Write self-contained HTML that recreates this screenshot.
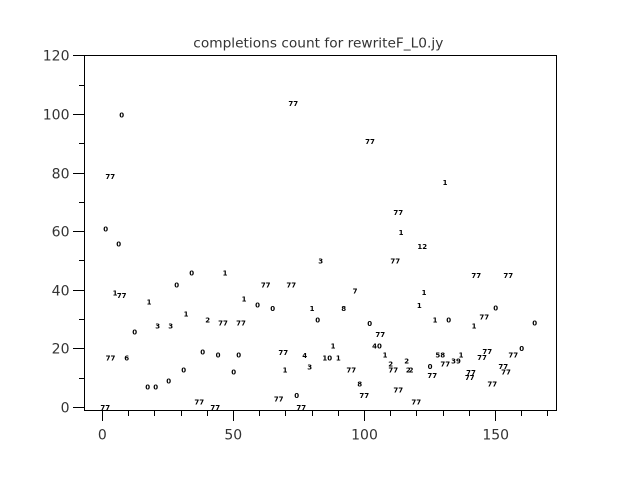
<!DOCTYPE html>
<html><head><meta charset="utf-8"><style>
html,body{margin:0;padding:0;background:#fff;}
svg{display:block;}
.t{font-family:"DejaVu Sans","Liberation Sans",sans-serif;font-size:14px;fill:#333;}
.d{font-family:"DejaVu Sans","Liberation Sans",sans-serif;font-size:7px;fill:#000;text-anchor:middle;font-weight:bold;}
</style></head><body>
<svg width="640" height="480" viewBox="0 0 640 480" xmlns="http://www.w3.org/2000/svg">
<rect width="640" height="480" fill="#fff"/>
<text x="193.3" y="47.5" font-family="DejaVu Sans, Liberation Sans, sans-serif" font-size="13.7" textLength="250" fill="#333">completions count for rewriteF_L0.jy</text>
<rect x="84.5" y="55.5" width="472" height="355" fill="none" stroke="#000" stroke-width="1"/>
<g stroke="#000" stroke-width="1">
<line x1="73" y1="407.5" x2="84" y2="407.5"/>
<line x1="79" y1="378.5" x2="84" y2="378.5"/>
<line x1="73" y1="348.5" x2="84" y2="348.5"/>
<line x1="79" y1="319.5" x2="84" y2="319.5"/>
<line x1="73" y1="290.5" x2="84" y2="290.5"/>
<line x1="79" y1="260.5" x2="84" y2="260.5"/>
<line x1="73" y1="231.5" x2="84" y2="231.5"/>
<line x1="79" y1="202.5" x2="84" y2="202.5"/>
<line x1="73" y1="173.5" x2="84" y2="173.5"/>
<line x1="79" y1="143.5" x2="84" y2="143.5"/>
<line x1="73" y1="114.5" x2="84" y2="114.5"/>
<line x1="79" y1="85.5" x2="84" y2="85.5"/>
<line x1="73" y1="55.5" x2="84" y2="55.5"/>
<line x1="102.5" y1="411" x2="102.5" y2="421"/>
<line x1="128.5" y1="411" x2="128.5" y2="416"/>
<line x1="154.5" y1="411" x2="154.5" y2="416"/>
<line x1="181.5" y1="411" x2="181.5" y2="416"/>
<line x1="207.5" y1="411" x2="207.5" y2="416"/>
<line x1="233.5" y1="411" x2="233.5" y2="421"/>
<line x1="259.5" y1="411" x2="259.5" y2="416"/>
<line x1="285.5" y1="411" x2="285.5" y2="416"/>
<line x1="312.5" y1="411" x2="312.5" y2="416"/>
<line x1="338.5" y1="411" x2="338.5" y2="416"/>
<line x1="364.5" y1="411" x2="364.5" y2="421"/>
<line x1="390.5" y1="411" x2="390.5" y2="416"/>
<line x1="416.5" y1="411" x2="416.5" y2="416"/>
<line x1="443.5" y1="411" x2="443.5" y2="416"/>
<line x1="469.5" y1="411" x2="469.5" y2="416"/>
<line x1="495.5" y1="411" x2="495.5" y2="421"/>
<line x1="521.5" y1="411" x2="521.5" y2="416"/>
<line x1="547.5" y1="411" x2="547.5" y2="416"/>
</g>
<g class="t" text-anchor="end">
<text x="69.5" y="412.3">0</text>
<text x="69.5" y="353.3">20</text>
<text x="69.5" y="295.3">40</text>
<text x="69.5" y="236.3">60</text>
<text x="69.5" y="178.3">80</text>
<text x="69.5" y="119.3">100</text>
<text x="69.5" y="60.7">120</text>
</g>
<g class="t" text-anchor="middle">
<text x="102.3" y="439.3">0</text>
<text x="233.3" y="439.3">50</text>
<text x="364.5" y="439.3">100</text>
<text x="495.7" y="439.3">150</text>
</g>
<g class="d">
<text x="121.7" y="117.5">0</text>
<text x="110.3" y="178.8">77</text>
<text x="105.7" y="231.5">0</text>
<text x="118.7" y="246.5">0</text>
<text x="191.7" y="275.5">0</text>
<text x="225" y="275.5">1</text>
<text x="176.7" y="287.5">0</text>
<text x="115" y="295.5">1</text>
<text x="121.7" y="298.2">77</text>
<text x="149" y="304.5">1</text>
<text x="244" y="301.5">1</text>
<text x="257.5" y="307.5">0</text>
<text x="186" y="316.5">1</text>
<text x="157.7" y="328.5">3</text>
<text x="170.7" y="328.5">3</text>
<text x="207.7" y="322.5">2</text>
<text x="223" y="325.5">77</text>
<text x="241" y="325.5">77</text>
<text x="134.7" y="334.5">0</text>
<text x="110.5" y="360.5">77</text>
<text x="126.7" y="360.5">6</text>
<text x="202.7" y="354.5">0</text>
<text x="218" y="357.5">0</text>
<text x="238.7" y="357.5">0</text>
<text x="183.7" y="372.5">0</text>
<text x="233.7" y="374.5">0</text>
<text x="168.7" y="383.5">0</text>
<text x="147.7" y="389.5">0</text>
<text x="155.7" y="389.5">0</text>
<text x="199.3" y="404.5">77</text>
<text x="105.3" y="409.8">77</text>
<text x="215.3" y="409.8">77</text>
<text x="293.3" y="105.8">77</text>
<text x="370" y="143.8">77</text>
<text x="445" y="185.2">1</text>
<text x="398.3" y="215.2">77</text>
<text x="401" y="234.8">1</text>
<text x="422.3" y="249.2">12</text>
<text x="320.7" y="263.5">3</text>
<text x="395.3" y="263.5">77</text>
<text x="476.3" y="278.2">77</text>
<text x="508.3" y="278.2">77</text>
<text x="265.7" y="287.5">77</text>
<text x="291.3" y="287.5">77</text>
<text x="355" y="293.5">7</text>
<text x="424" y="295.2">1</text>
<text x="272.7" y="310.8">0</text>
<text x="312" y="310.8">1</text>
<text x="343.7" y="310.8">8</text>
<text x="419.3" y="307.8">1</text>
<text x="495.7" y="310.5">0</text>
<text x="317.7" y="322.5">0</text>
<text x="484.3" y="319.5">77</text>
<text x="435" y="322.5">1</text>
<text x="448.7" y="322.5">0</text>
<text x="369.7" y="325.8">0</text>
<text x="474" y="328.5">1</text>
<text x="534.7" y="325.5">0</text>
<text x="380.3" y="336.8">77</text>
<text x="377" y="348.5">40</text>
<text x="333" y="348.5">1</text>
<text x="283.3" y="354.8">77</text>
<text x="304.7" y="357.8">4</text>
<text x="327.3" y="360.5">10</text>
<text x="338.3" y="360.5">1</text>
<text x="385" y="357.5">1</text>
<text x="285" y="372.5">1</text>
<text x="309.7" y="369.5">3</text>
<text x="351.3" y="372.5">77</text>
<text x="390.7" y="366.5">2</text>
<text x="393.3" y="372.5">77</text>
<text x="406.7" y="363.5">2</text>
<text x="408.3" y="372.5">2</text>
<text x="411" y="372.5">2</text>
<text x="359.7" y="386.5">8</text>
<text x="398.3" y="392.5">77</text>
<text x="296.7" y="398.2">0</text>
<text x="364.3" y="398.2">77</text>
<text x="278.7" y="401.5">77</text>
<text x="301.3" y="409.8">77</text>
<text x="521.7" y="351.2">0</text>
<text x="513.3" y="357.5">77</text>
<text x="487.3" y="354.2">77</text>
<text x="482" y="360.2">77</text>
<text x="461" y="357.5">1</text>
<text x="456" y="363.5">39</text>
<text x="445.3" y="366.5">77</text>
<text x="440.3" y="357.5">58</text>
<text x="430" y="369.2">0</text>
<text x="432.3" y="377.8">77</text>
<text x="471" y="375.2">77</text>
<text x="469.7" y="380.2">77</text>
<text x="503.3" y="369.2">77</text>
<text x="506" y="374.5">77</text>
<text x="492.3" y="386.5">77</text>
<text x="416.3" y="404.5">77</text>
</g>
</svg>
</body></html>
